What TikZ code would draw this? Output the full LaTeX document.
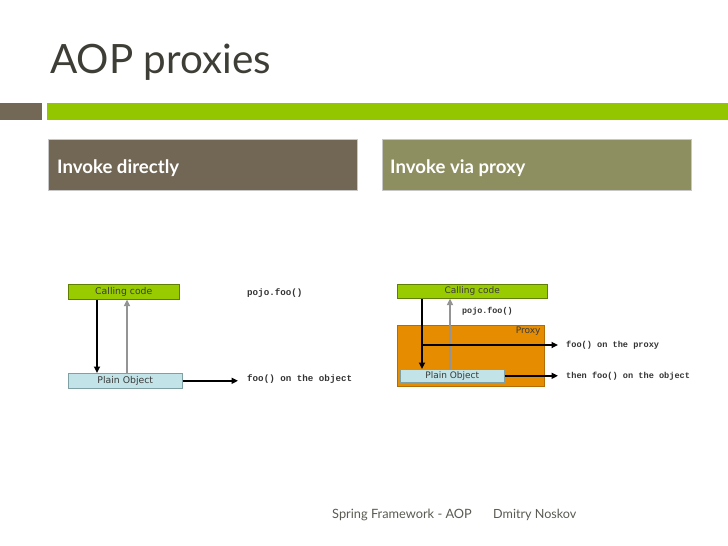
\documentclass[tikz,border=0pt]{standalone}
\usepackage{fontspec}
\setmainfont{Lato}
\newfontfamily\boxfont{DejaVu Sans}
\newfontfamily\codefont{Liberation Mono}
\usetikzlibrary{arrows.meta}
\definecolor{titlegray}{HTML}{3E3E36}
\definecolor{footgray}{HTML}{5A5A52}
\definecolor{tan}{HTML}{736856}
\definecolor{barGreen}{HTML}{94C600}
\definecolor{headA}{HTML}{726655}
\definecolor{headB}{HTML}{8D8F60}
\definecolor{ccFill}{HTML}{99CC00}
\definecolor{ccLine}{HTML}{5E7F00}
\definecolor{poFill}{HTML}{C2E3E7}
\definecolor{poLine}{HTML}{7FA1A6}
\definecolor{pxFill}{HTML}{E58C00}
\definecolor{pxLine}{HTML}{B36C00}
\definecolor{codeGray}{HTML}{333333}
\definecolor{boxText}{HTML}{3A3A3A}
\tikzset{
  headbox/.style={anchor=north west, minimum width=309pt, minimum height=51pt, inner sep=0pt, draw=black!22, line width=0.8pt},
  headtext/.style={anchor=base west, inner sep=0pt, text=white, font=\bfseries\fontsize{18.6}{20}\selectfont},
  ccbox/.style={anchor=north west, inner sep=0pt, fill=ccFill, draw=ccLine, line width=0.6pt, text=boxText},
  pobox/.style={anchor=north west, inner sep=0pt, fill=poFill, draw=poLine, line width=0.6pt, text=boxText},
  codetext/.style={anchor=west, inner sep=0pt, text=codeGray, font=\codefont\bfseries\fontsize{8.6}{10}\selectfont},
  blackarrow/.style={draw=black, line width=1.6pt, -{Triangle[length=6.5pt,width=6pt]}},
  grayarrow/.style={draw=black!42, line width=1.6pt, -{Triangle[length=6.5pt,width=6pt]}},
}
\begin{document}
\begin{tikzpicture}[x=1pt,y=-1pt]
\useasboundingbox (0,0) rectangle (728,546);
% title and bars
\node[anchor=base west, inner sep=0pt, text=titlegray, font=\fontsize{40.4}{46}\selectfont] (title) at (50,73) {AOP proxies};
\fill[tan] (0,103) rectangle (42,120);
\fill[barGreen] (47,103) rectangle (728,120);
% headers
\node[headbox, fill=headA] (hA) at (48,139) {};
\node[headbox, fill=headB] (hB) at (382,139) {};
\node[headtext] (hAt) at (57,173) {Invoke directly};
\node[headtext] (hBt) at (390,173) {Invoke via proxy};
% left diagram
\node[ccbox, minimum width=111pt, minimum height=15pt, font=\boxfont\fontsize{9.3}{10}\selectfont] (cc1) at (68,284) {Calling code};
\node[pobox, minimum width=114pt, minimum height=15pt, font=\boxfont\fontsize{9.3}{10}\selectfont] (po1) at (68,373) {Plain Object};
\node[codetext, font=\codefont\bfseries\fontsize{9.2}{10}\selectfont] (lt1) at (247,293) {pojo.foo()};
\node[codetext, font=\codefont\bfseries\fontsize{9.2}{10}\selectfont] (lt2) at (247,379) {foo() on the object};
\coordinate (ld) at ([xshift=29pt]cc1.south west);
\coordinate (lu) at ([xshift=59pt]po1.north west);
\draw[blackarrow] (ld) -- (ld |- po1.north);
\draw[grayarrow] (lu) -- (lu |- cc1.south);
\draw[blackarrow] (po1.east) -- ([xshift=-9pt]lt2.west |- po1.east);
% right diagram
\node[anchor=north west, inner sep=0pt, minimum width=147pt, minimum height=61pt, fill=pxFill, draw=pxLine, line width=0.6pt] (px) at (397,325) {};
\node[anchor=north east, inner sep=0pt, text=boxText, font=\boxfont\fontsize{9}{10}\selectfont] (pxl) at ([xshift=-4pt,yshift=-2pt]px.north east) {Proxy};
\node[ccbox, minimum width=150pt, minimum height=14pt, font=\boxfont\fontsize{9}{10}\selectfont] (cc2) at (397,284) {Calling code};
\node[pobox, minimum width=104pt, minimum height=13pt, font=\boxfont\fontsize{9}{10}\selectfont] (po2) at (400,369) {Plain Object};
\node[codetext, font=\codefont\bfseries\fontsize{8.4}{10}\selectfont] (rt0) at (462,311) {pojo.foo()};
\node[codetext] (rt1) at (566,345) {foo() on the proxy};
\node[codetext] (rt2) at (566,376) {then foo() on the object};
\coordinate (rd) at ([xshift=25pt]cc2.south west);
\coordinate (ru) at ([xshift=50pt]po2.north west);
\draw[blackarrow] (rd) -- (rd |- po2.north);
\draw[grayarrow] (ru) -- (ru |- cc2.south);
\draw[blackarrow] (rd |- rt1.west) -- ([xshift=-8pt]rt1.west);
\draw[blackarrow] (po2.east) -- ([xshift=-8pt]rt2.west |- po2.east);
% footer
\node[anchor=base west, inner sep=0pt, text=footgray, font=\fontsize{12.8}{14}\selectfont] (f1) at (332,518) {Spring Framework - AOP};
\node[anchor=base west, inner sep=0pt, text=footgray, font=\fontsize{12.6}{14}\selectfont] (f2) at (493,518) {Dmitry Noskov};
\end{tikzpicture}
\end{document}
